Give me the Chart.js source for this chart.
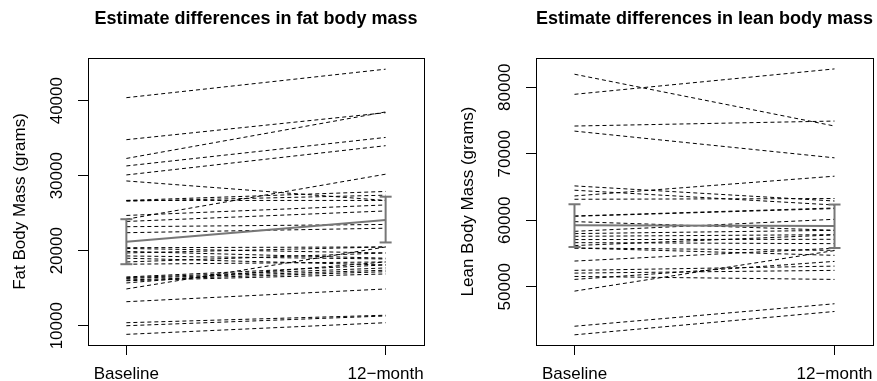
<!DOCTYPE html>
<html>
<head>
<meta charset="utf-8">
<script src="https://cdn.jsdelivr.net/npm/chart.js@4/dist/chart.umd.min.js"></script>
<style>
    html, body { margin: 0; padding: 0; background: #fff; }
    #wrap { position: relative; width: 877px; height: 381px; overflow: hidden; background: #fff; }
    #wrap canvas { position: absolute; top: 0; }
    #fatChart { left: 0; }
    #leanChart { left: 448px; }
</style>
</head>
<body>
<div id="wrap">
    <canvas id="fatChart" width="512" height="381"></canvas>
    <canvas id="leanChart" width="513" height="381"></canvas>
</div>
<script>
// =====================
// Data (grams)
// =====================
const timeLabels = ['Baseline', '12\u2212month'];
const timeRange = [0.852, 2.148];

const fatBaseline = [40400, 34800, 32300, 31300, 30100, 29300, 26700, 26700, 26600, 24700, 24200, 23900, 23200, 22400,
    20400, 20300, 19900, 19700, 19300, 19000, 18500, 18200, 16500, 16400, 16300, 16100, 16000, 15700, 14900, 13200,
    10400, 10000, 8850];
const fatMonth12 = [44200, 38400, 38500, 35100, 34000, 26700, 27900, 26700, 27400, 26100, 30200, 25300, 23500, 23000,
    20500, 19700, 19000, 20500, 18900, 18100, 19700, 18500, 18100, 17700, 17400, 17200, 16900, 18500, 20500, 14900,
    11400, 11300, 10400];
const fatMean = [21200, 24100];
const fatLower = [18200, 21100];
const fatUpper = [24200, 27200];
const fatTicks = [10000, 15000, 20000, 25000, 30000, 35000, 40000, 45000];
const fatRange = [7430, 45690];

const leanBaseline = [81960, 78940, 74170, 73410, 65170, 64520, 63660, 63160, 60650, 60600, 59800, 58340, 58000,
    57590, 57100, 56640, 56200, 55830, 55830, 53870, 52470, 52060, 51560, 51110, 49350, 44070, 42780];
const leanMonth12 = [74170, 82760, 74920, 69390, 62900, 62300, 66630, 63270, 61850, 61760, 58500, 60150, 58490,
    57840, 57140, 56490, 57800, 55480, 54730, 55800, 53110, 52470, 51110, 53820, 55450, 47450, 46290];
const leanMean = [59250, 59140];
const leanLower = [55980, 55830];
const leanUpper = [62410, 62370];
const leanTicks = [50000, 60000, 70000, 80000];
const leanRange = [41250, 84400];

// =====================
// Helpers
// =====================
Chart.defaults.font.family = "'Liberation Sans', Arial, Helvetica, sans-serif";
Chart.defaults.color = '#000';

const boxPlugin = {
    id: 'plotBox',
    beforeDatasetsDraw(chart) {
        const { ctx, chartArea: a } = chart;
        ctx.save();
        ctx.strokeStyle = '#000';
        ctx.lineWidth = 1;
        ctx.strokeRect(Math.round(a.left) + 0.5, Math.round(a.top) + 0.5, Math.round(a.width), Math.round(a.height));
        ctx.restore();
    }
};

function subjectLines(base, end) {
    return base.map((b, i) => ({
        data: [{ x: 1, y: b }, { x: 2, y: end[i] }],
        borderColor: '#000',
        borderWidth: 1,
        borderDash: [4, 3],
        pointRadius: 0,
        order: 2
    }));
}

function summaryLines(mean, lower, upper) {
    const grey = '#777777';
    const sets = [{
        data: mean.map((m, i) => ({ x: i + 1, y: m })),
        borderColor: grey, borderWidth: 2, pointRadius: 0, order: 0
    }];
    lower.forEach((lo, i) => {
        sets.push({
            data: [{ x: i + 1, y: lo }, { x: i + 1, y: upper[i] }],
            borderColor: grey, borderWidth: 2,
            pointStyle: 'line', pointRadius: 6, pointBorderWidth: 2,
            pointBorderColor: grey, pointBackgroundColor: grey,
            order: 0
        });
    });
    return sets;
}

function makeChart(el, title, yTitle, base, end, mean, lower, upper, yTicks, yRange, labelEvery) {
    return new Chart(el, {
        type: 'line',
        data: { datasets: [...summaryLines(mean, lower, upper), ...subjectLines(base, end)] },
        plugins: [boxPlugin],
        options: {
            responsive: false,
            animation: false,
            layout: { padding: { left: 0, right: 88, top: 0, bottom: 0 } },
            plugins: {
                legend: { display: false },
                tooltip: { enabled: false },
                title: {
                    display: true, text: title, color: '#000', fullSize: false,
                    font: { size: 18, weight: 'bold' },
                    padding: { top: 8, bottom: 28.4 }
                }
            },
            scales: {
                x: {
                    type: 'linear',
                    min: timeRange[0], max: timeRange[1],
                    afterBuildTicks: s => { s.ticks = [{ value: 1 }, { value: 2 }]; },
                    afterFit: s => { s.height = 36; },
                    ticks: { color: '#000', font: { size: 17 }, padding: 9, maxRotation: 0, callback: v => timeLabels[v - 1] },
                    grid: { drawOnChartArea: false, tickLength: 10, color: '#000' },
                    border: { display: false }
                },
                y: {
                    min: yRange[0], max: yRange[1],
                    afterBuildTicks: s => { s.ticks = yTicks.map(v => ({ value: v })); },
                    afterFit: s => { s.width = 88; },
                    ticks: {
                        color: '#000', font: { size: 17 },
                        minRotation: 90, maxRotation: 90, crossAlign: 'center', padding: -3,
                        callback: v => (v % labelEvery === 0 ? String(v) : '')
                    },
                    grid: { drawOnChartArea: false, tickLength: 10, color: '#000' },
                    border: { display: false },
                    title: { display: true, text: yTitle, color: '#000', font: { size: 17 }, padding: { top: 10, bottom: 0 } }
                }
            }
        }
    });
}

// =====================
// Charts
// =====================
makeChart(document.getElementById('fatChart'), 'Estimate differences in fat body mass', 'Fat Body Mass (grams)',
    fatBaseline, fatMonth12, fatMean, fatLower, fatUpper, fatTicks, fatRange, 10000);

makeChart(document.getElementById('leanChart'), 'Estimate differences in lean body mass', 'Lean Body Mass (grams)',
    leanBaseline, leanMonth12, leanMean, leanLower, leanUpper, leanTicks, leanRange, 10000);
</script>
</body>
</html>
